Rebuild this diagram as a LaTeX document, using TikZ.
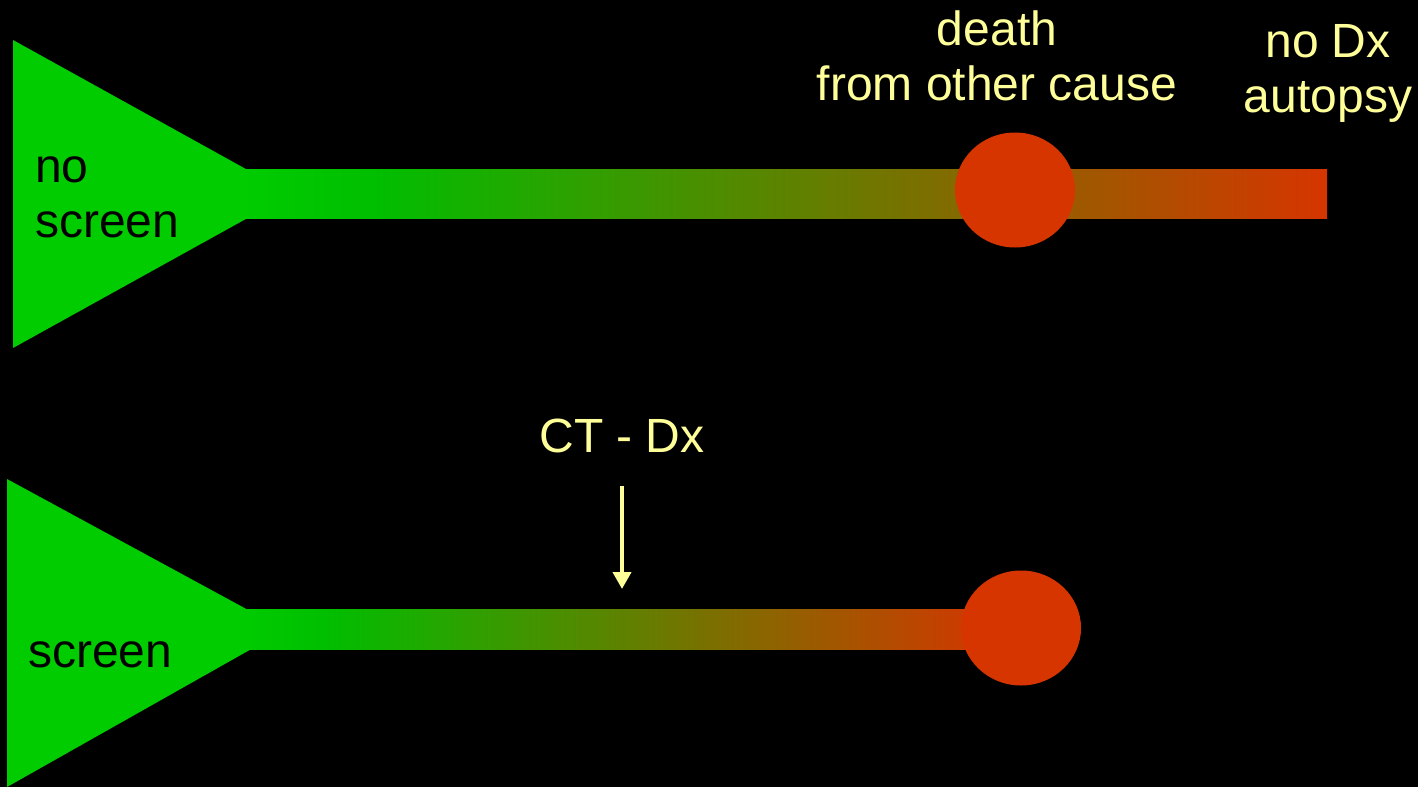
\documentclass[tikz,border=0pt]{standalone}
\usepackage{fontspec}
\setmainfont{Liberation Sans}
\usetikzlibrary{arrows.meta,shapes.geometric}
\definecolor{grA}{RGB}{0,204,0}
\definecolor{grB}{RGB}{0,190,0}
\definecolor{redC}{RGB}{214,53,0}
\definecolor{labelY}{RGB}{255,255,153}
\tikzset{
  funnel/.style={fill=grA, draw=none},
  dot/.style={ellipse, fill=redC, draw=none, inner sep=0pt, minimum width=120pt, minimum height=115pt},
  ylabel/.style={text=labelY, font=\fontsize{48}{55}\selectfont, align=center, inner sep=0pt, anchor=base},
  blabel/.style={text=black, font=\fontsize{48}{55}\selectfont, align=left, inner sep=0pt, anchor=base west},
  pointer/.style={draw=labelY, line width=4pt, -{Triangle[width=18pt,length=17pt]}}
}
\begin{document}
\begin{tikzpicture}[x=1pt,y=-1pt]
\path[fill=black] (0,0) rectangle (1418,787);
\useasboundingbox (0,0) rectangle (1418,787);
% top row
\fill[funnel] (13,40) -- (291,194) -- (13,348) -- cycle;
\fill[left color=grA, right color=grB] (243,169) rectangle (374,218);
\fill[left color=grB, right color=redC] (373,169) rectangle (1327,218);
\node[dot] (d1) at (1015,190) {};
% bottom row
\fill[funnel] (7,479) -- (285,630) -- (7,787) -- cycle;
\fill[left color=grA, right color=grB] (236,609) rectangle (326,649);
\fill[left color=grB, right color=redC] (325,609) rectangle (1000,649);
\node[dot] (d2) at (1021,628) {};
% labels (base anchor = baseline of the last line)
\node[ylabel] (death) at (997,100) {death\\from other cause};
\node[ylabel] (nodx) at (1328,112) {no Dx\\autopsy};
\node[blabel] (noscreen) at (35,237) {no\\screen};
\node[blabel] (screen) at (28,667) {screen};
\node[ylabel] (ct) at (622,452) {CT - Dx};
\coordinate (arrS) at (622,486);
\coordinate (arrE) at (622,589);
\draw[pointer] (arrS) -- (arrE);
\end{tikzpicture}
\end{document}
